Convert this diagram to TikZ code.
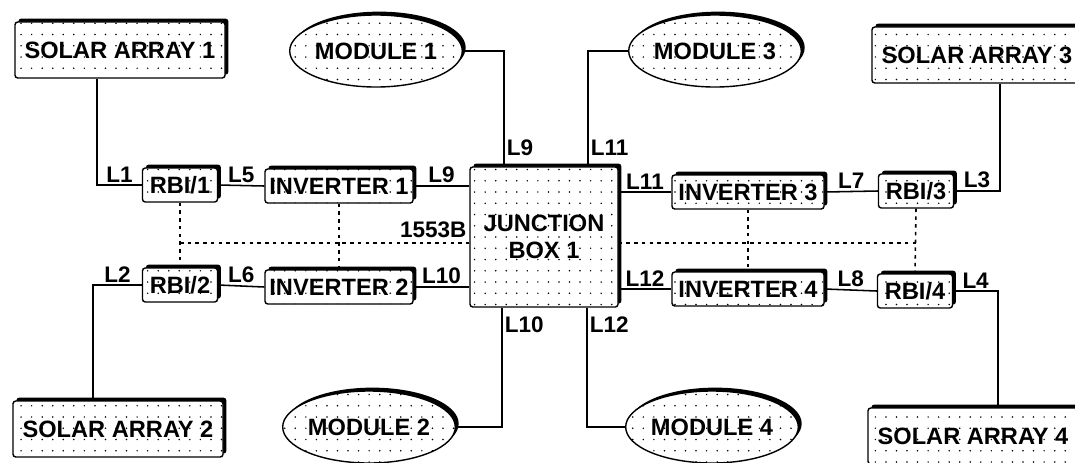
\documentclass[tikz,border=0pt]{standalone}
\usepackage{fontspec}
\setmainfont{Liberation Sans}
\usetikzlibrary{calc, positioning, shapes.geometric, shadows, patterns}

\newcommand{\diagfont}{\fontsize{16.8}{19}\selectfont\bfseries}
\newcommand{\lblfont}{\fontsize{16}{18}\selectfont\bfseries}
\pgfdeclarepatternformonly{sparsedots}{\pgfqpoint{-1pt}{-1pt}}{\pgfqpoint{1pt}{1pt}}{\pgfqpoint{7.5pt}{8pt}}{%
  \pgfpathcircle{\pgfpointorigin}{0.6pt}\pgfusepath{fill}}

\begin{document}
\begin{tikzpicture}[x=0.025cm, y=-0.025cm,
        shadowed/.style={general shadow={fill=black, shadow xshift=2.4pt, shadow yshift=2.4pt}},
        dot_fill/.style={preaction={fill=white}, pattern=sparsedots},
        solar_box/.style={draw, line width=1pt, rounded corners=2pt, shadowed, dot_fill, minimum width=5.25cm, minimum height=1.4cm, font=\diagfont},
        unit_box/.style={draw, line width=1pt, rounded corners=2pt, shadowed, dot_fill, minimum height=0.85cm, inner sep=2pt, font=\diagfont},
        module_oval/.style={draw, ellipse, line width=1pt, shadowed, dot_fill, minimum width=3.65cm, minimum height=1.8cm, inner sep=0pt, font=\diagfont},
        junction_box/.style={draw, line width=1pt, rounded corners=2pt, shadowed, dot_fill, minimum width=3.7cm, minimum height=3.5cm, align=center, font=\diagfont},
        wire/.style={line width=1.1pt},
        bus_line/.style={line width=1.1pt, dash pattern=on 2.5pt off 3pt},
        line_lbl/.style={font=\lblfont, inner sep=1.5pt}
    ]
    \useasboundingbox (0,0) rectangle (1075,462);
    \clip (0,0) rectangle (1075,462);

    % ================= Junction box and modules =================
    \node[junction_box] (jbox) at (544, 237) {JUNCTION\\BOX 1};

    \node[module_oval] (mod1) at (376, 51) {MODULE 1};
    \node[module_oval] (mod3) at (715, 51) {MODULE 3};
    \node[module_oval] (mod2) at (369, 427) {MODULE 2};
    \node[module_oval] (mod4) at (712, 427) {MODULE 4};

    \draw[wire] (mod1.east) -| node[line_lbl, pos=0.92, right] {L9} ([xshift=-1cm]jbox.north);
    \draw[wire] (mod3.west) -| node[line_lbl, pos=0.92, right] {L11} ([xshift=1.1cm]jbox.north);
    \draw[wire] ([xshift=-1.05cm]jbox.south) |- node[line_lbl, pos=0.07, right] {L10} (mod2.east);
    \draw[wire] ([xshift=1.075cm]jbox.south) |- node[line_lbl, pos=0.07, right] {L12} (mod4.west);

    % ================= Left side =================
    \node[solar_box] (sa1) at (120, 50) {SOLAR ARRAY 1};
    \node[solar_box] (sa2) at (118, 429) {SOLAR ARRAY 2};

    \node[unit_box, minimum width=1.875cm] (rbi1) at (180, 185) {RBI/1};
    \node[unit_box, minimum width=1.875cm] (rbi2) at (180, 285) {RBI/2};
    \node[unit_box, minimum width=3.7cm] (inv1) at (339, 186) {INVERTER 1};
    \node[unit_box, minimum width=3.7cm] (inv2) at (339, 287) {INVERTER 2};

    \draw[wire] ([xshift=-0.575cm]sa1.south) |- node[line_lbl, pos=0.75, above] {L1} (rbi1.west);
    \draw[wire] (rbi2.west) -| node[line_lbl, pos=0.25, above] {L2} ([xshift=-0.625cm]sa2.north);
    \draw[wire] (rbi1.east) -- node[line_lbl, midway, above] {L5} (inv1.west);
    \draw[wire] (rbi2.east) -- node[line_lbl, midway, above] {L6} (inv2.west);
    \draw[wire] (inv1.east) -- node[line_lbl, midway, above] {L9} (inv1.east -| jbox.west);
    \draw[wire] (inv2.east) -- node[line_lbl, midway, above] {L10} (inv2.east -| jbox.west);

    % ================= Right side =================
    \node[solar_box] (sa3) at (977, 55) {SOLAR ARRAY 3};
    \node[solar_box] (sa4) at (973, 436) {SOLAR ARRAY 4};

    \node[unit_box, minimum width=1.875cm] (rbi3) at (916, 191) {RBI/3};
    \node[unit_box, minimum width=1.875cm] (rbi4) at (915, 291) {RBI/4};
    \node[unit_box, minimum width=3.8cm] (inv3) at (748, 192) {INVERTER 3};
    \node[unit_box, minimum width=3.8cm] (inv4) at (748, 289) {INVERTER 4};

    \draw[wire] (jbox.east |- inv3.west) -- node[line_lbl, midway, above] {L11} (inv3.west);
    \draw[wire] (jbox.east |- inv4.west) -- node[line_lbl, midway, above] {L12} (inv4.west);
    \draw[wire] (inv3.east) -- node[line_lbl, midway, above] {L7} (rbi3.west);
    \draw[wire] (inv4.east) -- node[line_lbl, midway, above] {L8} (rbi4.west);
    \draw[wire] (rbi3.east) -| node[line_lbl, pos=0.25, above] {L3} ([xshift=0.575cm]sa3.south);
    \draw[wire] (rbi4.east) -| node[line_lbl, pos=0.25, above] {L4} ([xshift=0.625cm]sa4.north);

    % ================= 1553B data bus =================
    \coordinate (bus_L) at ([yshift=-0.15cm]jbox.west);
    \coordinate (bus_R) at ([yshift=-0.15cm]jbox.east);
    \draw[bus_line] (rbi1.south |- bus_L) -- node[line_lbl, pos=1, anchor=south east, yshift=2pt] {1553B} (bus_L);
    \draw[bus_line] (bus_R) -- (bus_R -| rbi3.south);
    \draw[bus_line] (rbi1.south) -- (rbi2.north);
    \draw[bus_line] (inv1.south) -- (inv2.north);
    \draw[bus_line] (inv3.south) -- (inv4.north);
    \draw[bus_line] (rbi3.south) -- (rbi4.north);

\end{tikzpicture}
\end{document}
